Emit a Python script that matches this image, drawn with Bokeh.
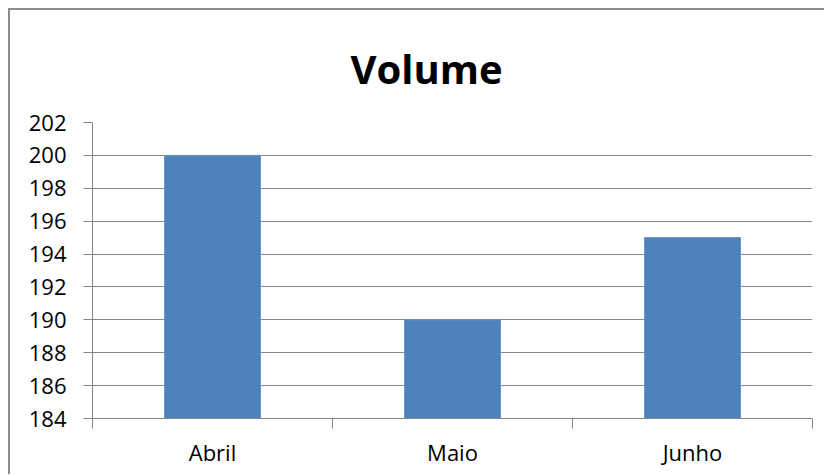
from bokeh.plotting import figure
from bokeh.models import FixedTicker, Range1d, ColumnDataSource, Title
from bokeh.embed import file_html
from bokeh.resources import INLINE

title_text = "Volume"
categories = ["Abril", "Maio", "Junho"]
values = [200, 190, 195]
y_ticks = [184, 186, 188, 190, 192, 194, 196, 198, 200, 202]
y_min, y_max = 184, 202

FONT = "Open Sans"
GRID = "#878787"
BAR = "#4F81BD"

x_pos = [i + 0.5 for i in range(len(categories))]
src = ColumnDataSource(dict(x=x_pos, top=values, cat=categories))

p = figure(width=816, height=466, output_backend="svg", toolbar_location=None,
           x_range=Range1d(0, len(categories)), y_range=Range1d(y_min, y_max),
           min_border_left=82, min_border_right=14, min_border_top=112,
           min_border_bottom=58)
p.styles = {"margin-left": "8px", "margin-top": "8px",
            "border-left": "2px solid #8c8c8c", "border-top": "2px solid #8c8c8c"}
p.outline_line_color = None
p.background_fill_color = "white"
p.border_fill_color = "white"

t = Title(text=title_text, align="left", offset=258, standoff=50,
          vertical_align="top",
          text_font=FONT, text_font_size="40px", text_font_style="bold",
          text_color="black")
p.add_layout(t, "above")

p.vbar(x="x", top="top", bottom=y_min, width=0.4, source=src,
       fill_color=BAR, line_color="#6a93c8", line_width=1)

# x axis
p.xaxis.ticker = FixedTicker(ticks=x_pos, minor_ticks=list(range(len(categories) + 1)))
p.xaxis.major_label_overrides = {x: c for x, c in zip(x_pos, categories)}
p.xaxis.major_tick_line_color = None
p.xaxis.minor_tick_line_color = GRID
p.xaxis.minor_tick_in = 0
p.xaxis.minor_tick_out = 10
p.xaxis.axis_line_color = GRID
p.xaxis.major_label_text_font = FONT
p.xaxis.major_label_text_font_size = "22px"
p.xaxis.major_label_text_color = "black"
p.xaxis.major_label_standoff = 8
p.xgrid.grid_line_color = None

# y axis
p.yaxis.ticker = FixedTicker(ticks=y_ticks)
p.yaxis.minor_tick_line_color = None
p.yaxis.major_tick_line_color = GRID
p.yaxis.major_tick_in = 0
p.yaxis.major_tick_out = 9
p.yaxis.axis_line_color = GRID
p.yaxis.major_label_text_font = FONT
p.yaxis.major_label_text_font_size = "22px"
p.yaxis.major_label_text_color = "black"
p.yaxis.major_label_standoff = 17
p.ygrid.grid_line_color = GRID
p.ygrid.grid_line_width = 1

open("out.html", "w").write(file_html(p, INLINE))
